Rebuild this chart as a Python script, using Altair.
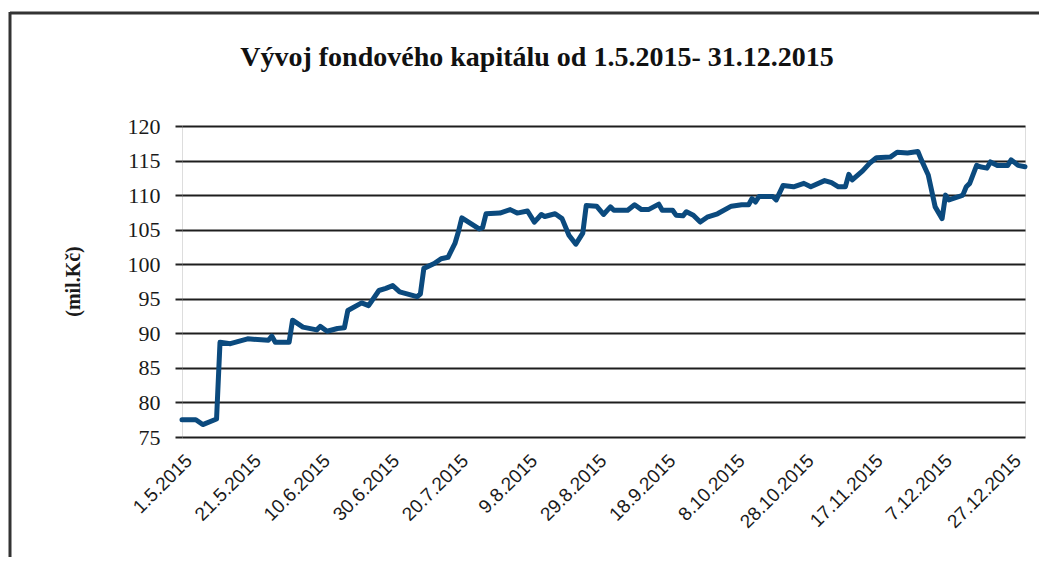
import altair as alt
import pandas as pd

# ---- data ----
dates = [
    "2015-05-01", "2015-05-05", "2015-05-07", "2015-05-11", "2015-05-12", "2015-05-15",
    "2015-05-20", "2015-05-26", "2015-05-27", "2015-05-28", "2015-06-01", "2015-06-02",
    "2015-06-05", "2015-06-09", "2015-06-10", "2015-06-12", "2015-06-15", "2015-06-17",
    "2015-06-18", "2015-06-22", "2015-06-24", "2015-06-27", "2015-06-29", "2015-07-01",
    "2015-07-03", "2015-07-08", "2015-07-09", "2015-07-10", "2015-07-13", "2015-07-15",
    "2015-07-17", "2015-07-19", "2015-07-20", "2015-07-21", "2015-07-26", "2015-07-27",
    "2015-07-28", "2015-08-01", "2015-08-04", "2015-08-06", "2015-08-09", "2015-08-11",
    "2015-08-13", "2015-08-14", "2015-08-17", "2015-08-19", "2015-08-21", "2015-08-23",
    "2015-08-25", "2015-08-26", "2015-08-29", "2015-08-31", "2015-09-02", "2015-09-03",
    "2015-09-07", "2015-09-09", "2015-09-11", "2015-09-13", "2015-09-16", "2015-09-17",
    "2015-09-20", "2015-09-21", "2015-09-23", "2015-09-24", "2015-09-26", "2015-09-28",
    "2015-09-30", "2015-10-03", "2015-10-07", "2015-10-10", "2015-10-12", "2015-10-13",
    "2015-10-14", "2015-10-15", "2015-10-19", "2015-10-20", "2015-10-22", "2015-10-25",
    "2015-10-28", "2015-10-30", "2015-11-03", "2015-11-05", "2015-11-07", "2015-11-09",
    "2015-11-10", "2015-11-11", "2015-11-14", "2015-11-16", "2015-11-18", "2015-11-22",
    "2015-11-24", "2015-11-27", "2015-11-30", "2015-12-01", "2015-12-03", "2015-12-05",
    "2015-12-07", "2015-12-08", "2015-12-09", "2015-12-12", "2015-12-13", "2015-12-14",
    "2015-12-15", "2015-12-17", "2015-12-18", "2015-12-20", "2015-12-21", "2015-12-23",
    "2015-12-26", "2015-12-27", "2015-12-29", "2015-12-31",
]
capital = [
    77.5, 77.5, 76.8, 77.6, 88.7, 88.5,
    89.2, 89.0, 89.6, 88.7, 88.7, 91.9,
    90.9, 90.5, 91.0, 90.3, 90.7, 90.8,
    93.3, 94.4, 94.0, 96.2, 96.5, 96.9,
    96.0, 95.3, 95.7, 99.4, 100.1, 100.8,
    101.0, 103.0, 104.7, 106.7, 105.1, 105.3,
    107.3, 107.4, 107.9, 107.4, 107.7, 106.1,
    107.2, 106.9, 107.3, 106.6, 104.2, 102.9,
    104.5, 108.5, 108.4, 107.2, 108.3, 107.8,
    107.8, 108.6, 107.9, 107.9, 108.7, 107.8,
    107.8, 107.1, 107.0, 107.6, 107.1, 106.1,
    106.8, 107.3, 108.4, 108.6, 108.6, 109.5,
    109.0, 109.8, 109.8, 109.3, 111.4, 111.2,
    111.7, 111.2, 112.1, 111.8, 111.2, 111.2,
    113.0, 112.2, 113.5, 114.6, 115.4, 115.5,
    116.2, 116.1, 116.3, 115.1, 112.9, 108.3,
    106.6, 110.0, 109.3, 109.8, 110.0, 111.2,
    111.7, 114.3, 114.1, 113.9, 114.8, 114.3,
    114.3, 115.1, 114.3, 114.1,
]
tick_dates = [
    "2015-05-01", "2015-05-21", "2015-06-10", "2015-06-30", "2015-07-20",
    "2015-08-09", "2015-08-29", "2015-09-18", "2015-10-08", "2015-10-28",
    "2015-11-17", "2015-12-07", "2015-12-27",
]
x_domain = ["2015-05-01", "2015-12-31"]
y_ticks = [75, 80, 85, 90, 95, 100, 105, 110, 115, 120]

title_text = "Vývoj fondového kapitálu od 1.5.2015- 31.12.2015"
y_title = "(mil.Kč)"


def ms(s):
    return int(pd.Timestamp(s, tz="UTC").value // 10**6)


df = pd.DataFrame({"datum": dates, "kapital": capital})

line = alt.Chart(df).mark_line(
    color="#0b4a7e", strokeWidth=5, strokeJoin="round", strokeCap="round"
).encode(
    x=alt.X(
        "datum:T",
        scale=alt.Scale(type="utc", domain=[ms(d) for d in x_domain]),
        axis=alt.Axis(
            values=[ms(d) for d in tick_dates],
            format="%-d.%-m.%Y",
            labelAngle=-45,
            labelFont="Liberation Sans",
            labelFontSize=19,
            labelColor="#1a1a1a",
            labelPadding=14,
            ticks=False,
            domain=False,
            grid=False,
            title=None,
            labelOverlap=False,
        ),
    ),
    y=alt.Y(
        "kapital:Q",
        scale=alt.Scale(domain=[75, 120], nice=False, zero=False),
        axis=alt.Axis(
            values=y_ticks,
            labelFont="Liberation Serif",
            labelFontSize=22,
            labelColor="#1a1a1a",
            labelPadding=15,
            tickSize=7,
            tickWidth=2,
            tickColor="#222222",
            domain=False,
            grid=True,
            gridColor="#1e1e1e",
            gridWidth=2.2,
            title=y_title,
            titleFont="Liberation Serif",
            titleFontSize=20,
            titleFontWeight="bold",
            titleColor="#1a1a1a",
            titleAngle=-90,
            titleX=-109,
            titleY=155,
            titleAlign="center",
            titleBaseline="middle",
        ),
    ),
)

frame_src = alt.Chart(pd.DataFrame({"k": [0]}))
top_rule = frame_src.mark_rule(color="#333333", strokeWidth=3).encode(
    x=alt.value(-172), x2=alt.value(870), y=alt.value(-113)
)
left_rule = frame_src.mark_rule(color="#333333", strokeWidth=3).encode(
    x=alt.value(-172), y=alt.value(-114), y2=alt.value(440)
)
title_mark = frame_src.mark_text(
    font="Liberation Serif",
    fontSize=28,
    fontWeight="bold",
    color="#111111",
    align="center",
    baseline="alphabetic",
).encode(
    x=alt.value(355),
    y=alt.value(-60),
    text=alt.value(title_text),
)

chart = (
    alt.layer(line, top_rule, left_rule, title_mark)
    .properties(
        width=843,
        height=311,
        padding={"left": 174, "top": 118, "right": 14, "bottom": 120},
        autosize=alt.AutoSizeParams(type="none"),
    )
    .configure_view(stroke="#222222", strokeWidth=2.5)
    .configure(background="white")
)

chart.save("out.html", embed_options={"renderer": "svg", "actions": False})
